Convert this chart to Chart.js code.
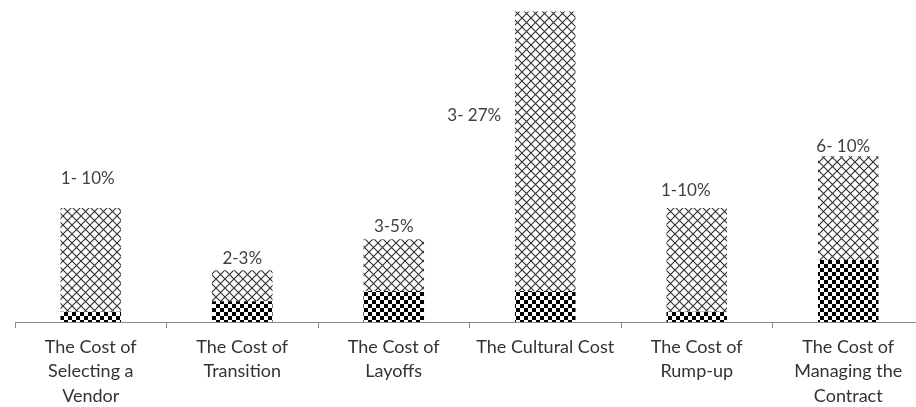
<!DOCTYPE html>
<html>
<head>
<meta charset="utf-8">
<script src="https://cdn.jsdelivr.net/npm/chart.js@4"></script>
<style>
  html, body { margin: 0; padding: 0; background: #fff; overflow: hidden; }
  #wrap { position: absolute; left: 0; top: 0; width: 930px; height: 407px; }
</style>
</head>
<body>
<div id="wrap"><canvas id="graph"></canvas></div>
<script>
const categories = [
    ["The Cost of", "Selecting a", "Vendor"],
    ["The Cost of", "Transition"],
    ["The Cost of", "Layoffs"],
    ["The Cultural Cost"],
    ["The Cost of", "Rump-up"],
    ["The Cost of", "Managing the", "Contract"],
]
const lowValues = [1, 2, 3, 3, 1, 6]
const highValues = [10, 3, 5, 27, 10, 10]
const rangeLabels = ["1- 10%", "2-3%", "3-5%", "3- 27%", "1-10%", "6- 10%"]

// label nudges, like dragged data labels in the original
const labelShift = [[-3, -30], [0, -12], [0, -13], [-71, 104], [-11, -18], [-5, -10]]

function hatchPattern() {
    const c = document.createElement("canvas")
    c.width = 9
    c.height = 9
    const g = c.getContext("2d")
    g.strokeStyle = "#2e2e2e"
    g.lineWidth = 1.1
    g.beginPath()
    g.moveTo(-1, -1)
    g.lineTo(10, 10)
    g.moveTo(10, -1)
    g.lineTo(-1, 10)
    g.stroke()
    return g.createPattern(c, "repeat")
}

function checkerPattern() {
    const c = document.createElement("canvas")
    c.width = 8
    c.height = 8
    const g = c.getContext("2d")
    g.fillStyle = "#fff"
    g.fillRect(0, 0, 8, 8)
    g.fillStyle = "#000"
    g.fillRect(0, 0, 4, 4)
    g.fillRect(4, 4, 4, 4)
    return g.createPattern(c, "repeat")
}

const rangeLabelPlugin = {
    id: "rangeLabels",
    afterDatasetsDraw(chart) {
        const ctx = chart.ctx
        const meta = chart.getDatasetMeta(1)
        ctx.save()
        ctx.font = "17px Lato"
        ctx.fillStyle = "#404040"
        ctx.textAlign = "center"
        ctx.textBaseline = "middle"
        meta.data.forEach((bar, i) => {
            ctx.fillText(rangeLabels[i], bar.x + labelShift[i][0], bar.y + labelShift[i][1])
        })
        ctx.restore()
    },
}

const chartID = document.getElementById("graph").getContext("2d")
let graphic = new Chart(chartID, {
    type: "bar",
    data: {
        labels: categories,
        datasets: [
            {
                label: "Low",
                data: lowValues,
                backgroundColor: checkerPattern(),
                borderWidth: 0,
            },
            {
                label: "High",
                data: highValues,
                backgroundColor: hatchPattern(),
                borderWidth: 0,
            },
        ],
    },
    options: {
        responsive: true,
        maintainAspectRatio: false,
        animation: false,
        layout: { padding: { left: 15, right: 6, top: 0, bottom: 0 } },
        datasets: {
            bar: { barPercentage: 0.4, categoryPercentage: 1 },
        },
        plugins: {
            legend: { display: false },
            tooltip: { enabled: false },
        },
        scales: {
            x: {
                stacked: true,
                afterFit: (scale) => { scale.height = 85 },
                border: { display: true, color: "#8c8c8c", width: 1 },
                grid: {
                    offset: true,
                    drawOnChartArea: false,
                    drawTicks: true,
                    tickLength: 6,
                    color: "#8c8c8c",
                },
                ticks: {
                    color: "#333",
                    font: { family: "Lato", size: 18, lineHeight: 1.35 },
                    padding: 7,
                    maxRotation: 0,
                    autoSkip: false,
                },
            },
            y: {
                stacked: true,
                display: false,
                min: 0,
                max: 31.1,
            },
        },
    },
    plugins: [rangeLabelPlugin],
})
</script>
</body>
</html>
